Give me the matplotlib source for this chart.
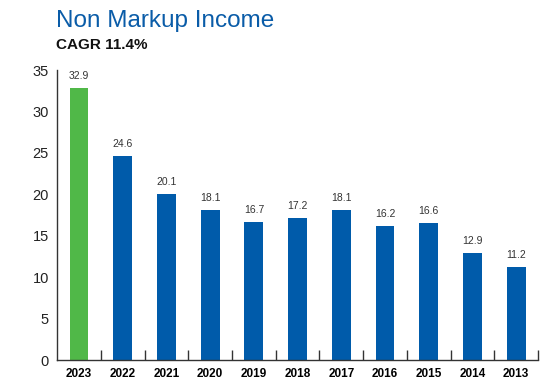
import matplotlib
matplotlib.use("Agg")

import matplotlib.pyplot as plt

# data
years = ["2023", "2022", "2021", "2020", "2019", "2018", "2017", "2016", "2015", "2014", "2013"]
income = [32.9, 24.6, 20.1, 18.1, 16.7, 17.2, 18.1, 16.2, 16.6, 12.9, 11.2]
yticks = [0, 5, 10, 15, 20, 25, 30, 35]

GREEN = "#50b848"
BLUE = "#005baa"

plt.rcParams["font.family"] = ["Liberation Sans", "DejaVu Sans"]

fig = plt.figure(figsize=(5.44, 3.79), dpi=100)
ax = fig.add_axes([0.105, 0.050, 0.884, 0.765])

x = list(range(len(years)))
colors = [GREEN] + [BLUE] * (len(years) - 1)
bars = ax.bar(x, income, width=0.43, color=colors, zorder=2)

# value labels over each bar
for b, v in zip(bars, income):
    ax.annotate(f"{v:.1f}", (b.get_x() + b.get_width() / 2, v),
                xytext=(0, 5), textcoords="offset points",
                ha="center", va="bottom", fontsize=7.5, color="#333333")

ax.set_xlim(-0.5, len(years) - 0.5)
ax.set_ylim(0, 35)
ax.set_yticks(yticks)
ax.tick_params(axis="y", length=0, pad=6, labelsize=10.5, labelcolor="#222222")

ax.set_xticks(x)
ax.set_xticklabels(years, fontweight="bold", fontsize=8.5)
ax.tick_params(axis="x", length=0, pad=6)
ax.set_xticks([i + 0.5 for i in x], minor=True)
ax.tick_params(axis="x", which="minor", direction="in", length=7, width=1, color="#333333")

for s in ["top", "right"]:
    ax.spines[s].set_visible(False)
for s in ["left", "bottom"]:
    ax.spines[s].set_color("#333333")
    ax.spines[s].set_linewidth(1)

fig.text(0.103, 0.945, "Non Markup Income", fontsize=17.5, color="#0a5ca8", va="center")
fig.text(0.103, 0.882, "CAGR 11.4%", fontsize=11, fontweight="bold", color="#111111", va="center")

fig.savefig("out.png", dpi=100)
